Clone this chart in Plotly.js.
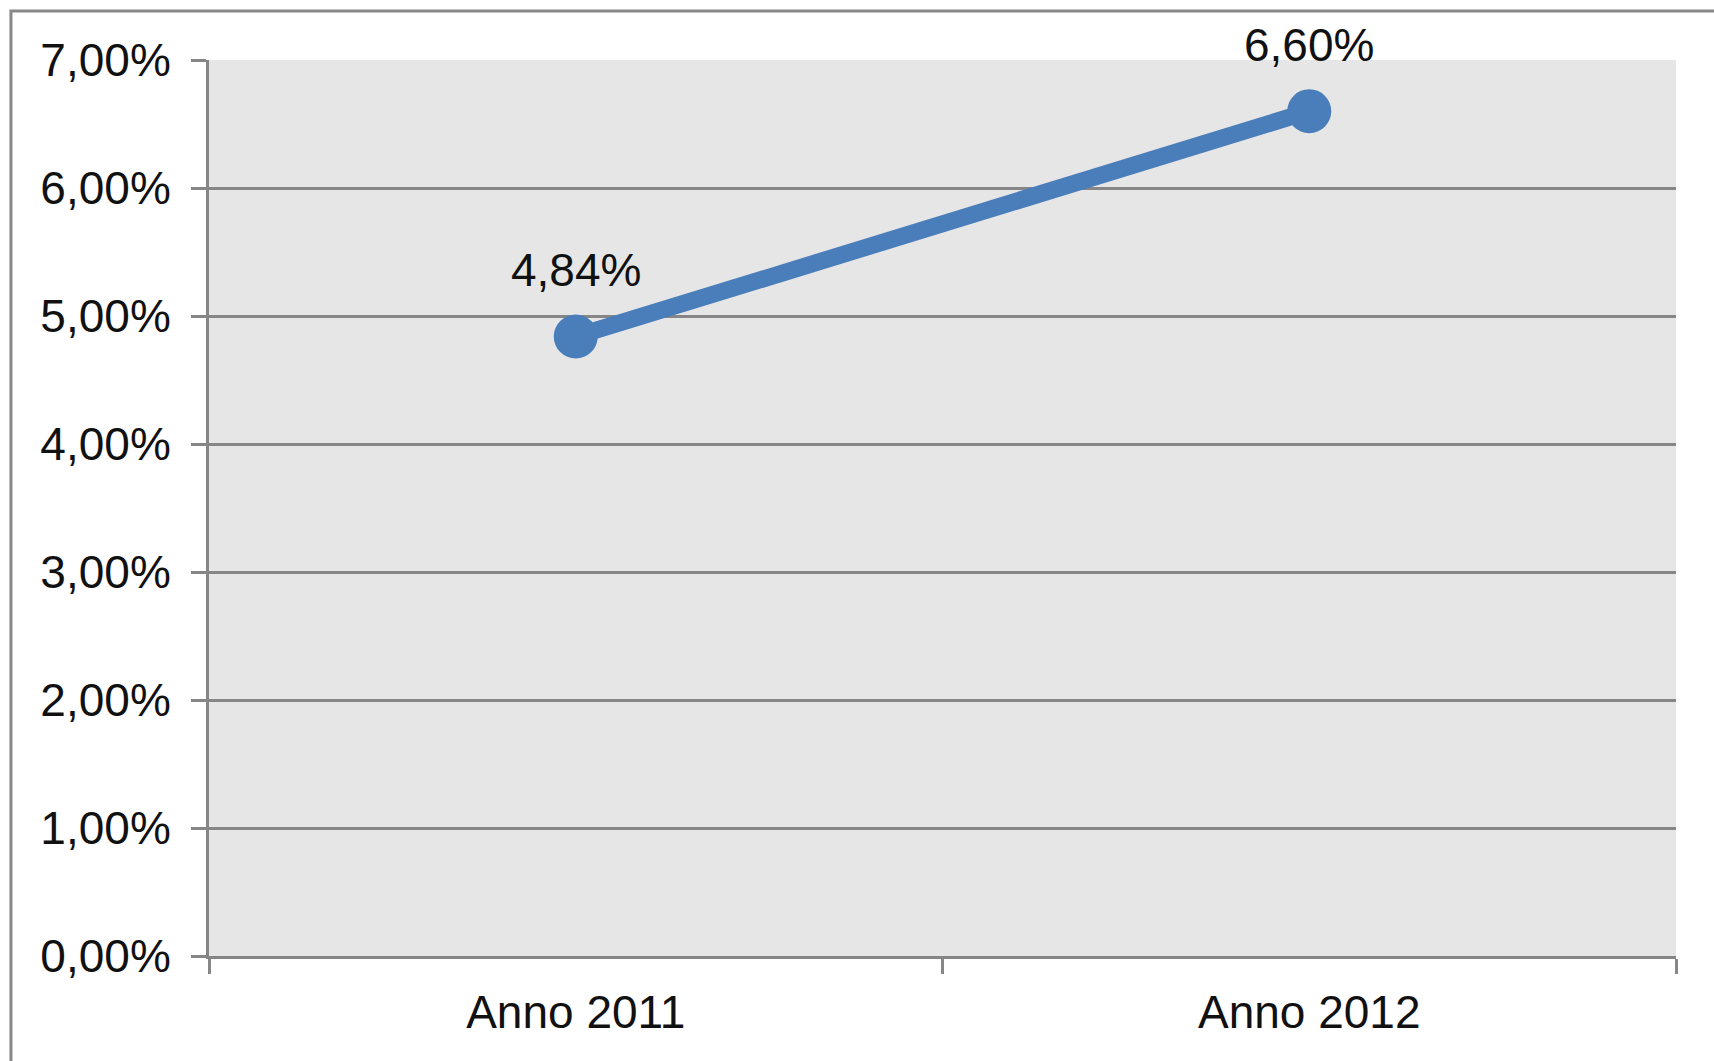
<!DOCTYPE html>
<html>
<head>
<meta charset="utf-8">
<script src="https://cdn.plot.ly/plotly-3.0.1.min.js"></script>
<style>html,body{margin:0;padding:0;background:#fff;}#chart{width:1714px;height:1061px;}</style>
</head>
<body>
<div id="chart"></div>
<script>
// Data
var categories = ["Anno 2011", "Anno 2012"];
var values = [0.0484, 0.0660];
var valueLabels = ["4,84%", "6,60%"];
var yTicks = [0, 0.01, 0.02, 0.03, 0.04, 0.05, 0.06, 0.07];

var gridColor = "#868686";
var seriesColor = "#4a7ebb";
var fontFamily = "Liberation Sans, Arial, sans-serif";

var trace = {
  type: "scatter",
  mode: "lines+markers",
  x: categories,
  y: values,
  line: {color: seriesColor, width: 17},
  marker: {color: seriesColor, size: 44},
  cliponaxis: false,
  hoverinfo: "skip"
};

var annotations = categories.map(function (c, i) {
  return {
    x: c, y: values[i], xref: "x", yref: "y",
    text: valueLabels[i],
    showarrow: false,
    xanchor: "center", yanchor: "bottom",
    yshift: 38,
    font: {family: fontFamily, size: 46, color: "#111"}
  };
});

var layout = {
  width: 1714,
  height: 1061,
  separators: ",.",
  margin: {l: 209, r: 38, t: 60, b: 105, pad: 0},
  paper_bgcolor: "#ffffff",
  plot_bgcolor: "#e6e6e6",
  showlegend: false,
  font: {family: fontFamily, size: 46, color: "#111"},
  xaxis: {
    type: "category",
    range: [-0.5, 1.5],
    tickson: "boundaries",
    ticks: "outside",
    ticklen: 15,
    tickwidth: 3,
    tickcolor: gridColor,
    showline: true,
    linecolor: gridColor,
    linewidth: 3,
    showgrid: false,
    zeroline: false,
    ticklabelstandoff: 14,
    tickfont: {family: fontFamily, size: 46, color: "#111"},
    fixedrange: true
  },
  yaxis: {
    range: [0, 0.07],
    tickvals: yTicks,
    tickformat: ".2%",
    ticks: "outside",
    ticklen: 15,
    tickwidth: 3,
    tickcolor: gridColor,
    showline: true,
    linecolor: gridColor,
    linewidth: 3,
    showgrid: true,
    gridcolor: gridColor,
    gridwidth: 3,
    zeroline: false,
    ticklabelstandoff: 11,
    tickfont: {family: fontFamily, size: 46, color: "#111"},
    fixedrange: true
  },
  annotations: annotations,
  shapes: [{
    type: "rect",
    xref: "paper", yref: "paper",
    x0: -0.135, x1: 1.5,
    y0: -0.5, y1: 1.0547,
    line: {color: "#888888", width: 3},
    fillcolor: "rgba(0,0,0,0)",
    layer: "below"
  }]
};

Plotly.newPlot("chart", [trace], layout, {displayModeBar: false, staticPlot: true});
</script>
</body>
</html>
